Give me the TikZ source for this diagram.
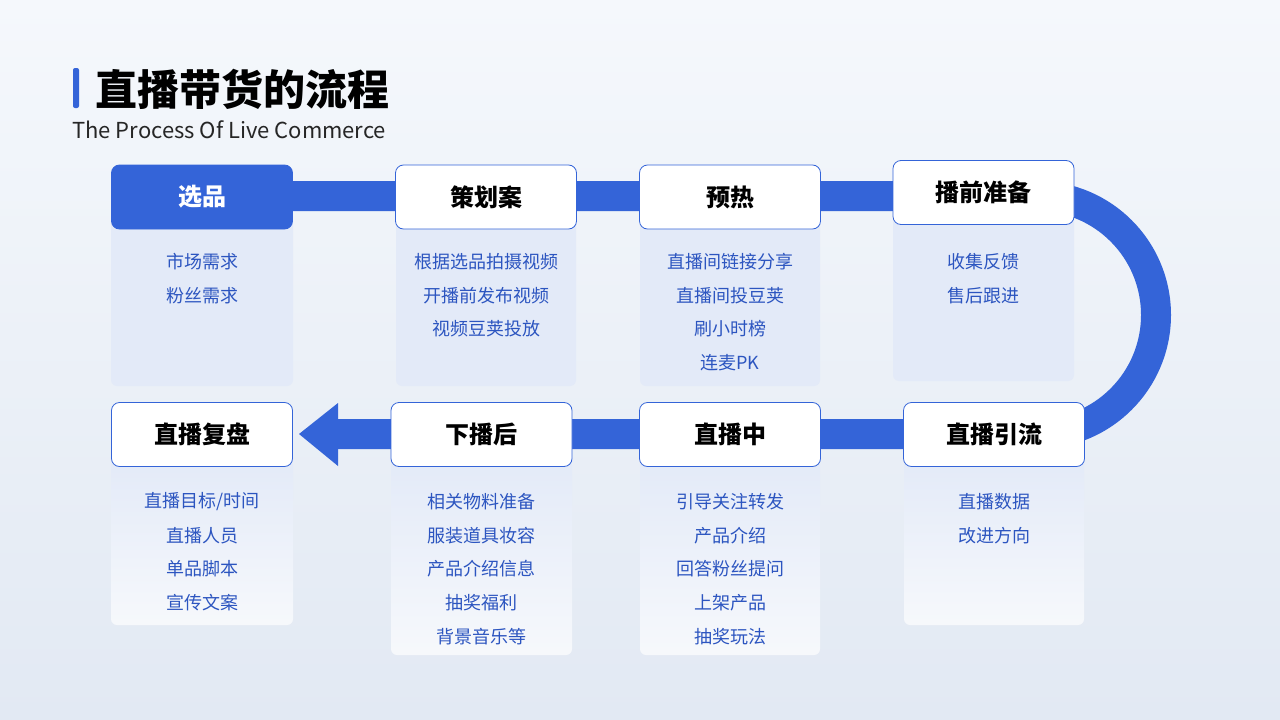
\documentclass[tikz,border=0pt]{standalone}
\usepackage{fontspec}
\setmainfont{Noto Sans CJK SC}
\usetikzlibrary{calc}
\definecolor{mainblue}{HTML}{3464D8}
\definecolor{listblue}{HTML}{2C55C0}
\definecolor{panel}{HTML}{E3EAF8}
\definecolor{bgtop}{HTML}{F5F8FC}
\definecolor{bgbot}{HTML}{E2E9F3}
\begin{document}
\begin{tikzpicture}[x=1pt,y=-1pt,
  head/.style={draw=mainblue,line width=0.8pt,fill=white,rounded corners=8pt,minimum width=181pt,minimum height=64pt,font=\bfseries\fontsize{24}{28}\selectfont,text=black},
  headsel/.style={head,fill=mainblue,text=white},
  item/.style={font=\fontsize{18}{22}\selectfont,text=listblue,anchor=center},
  band/.style={mainblue,line width=30pt}]
\useasboundingbox (0,0) rectangle (1280,720);
\shade[top color=bgtop,bottom color=bgbot] (0,0) rectangle (1280,720);
% title
\fill[mainblue,rounded corners=2pt] (73,68) rectangle (79,108);
\node[anchor=west,font=\bfseries\fontsize{42}{48}\selectfont,inner sep=0pt] (title) at (95,89) {直播带货的流程};
\node[anchor=west,font=\fontsize{22}{26}\selectfont,text=black!85,inner sep=0pt] (sub) at (72,130) {The Process Of Live Commerce};
% panels
\fill[panel,rounded corners=6pt] (111,220) rectangle (293,386);
\fill[panel,rounded corners=6pt] (396,220) rectangle (576,386);
\fill[panel,rounded corners=6pt] (640,220) rectangle (820,386);
\fill[panel,rounded corners=6pt] (893,215) rectangle (1074,381);
\shade[top color=panel,bottom color=bgbot!30!white,rounded corners=6pt] (111,460) rectangle (293,625);
\shade[top color=panel,bottom color=bgbot!30!white,rounded corners=6pt] (391,460) rectangle (572,655);
\shade[top color=panel,bottom color=bgbot!30!white,rounded corners=6pt] (640,460) rectangle (820,655);
\shade[top color=panel,bottom color=bgbot!30!white,rounded corners=6pt] (904,460) rectangle (1084,625);
% bands
\draw[band] (280,196) -- (1037,196) arc[start angle=-90,end angle=90,radius=119] -- (330,434);
\fill[mainblue] (299,434) -- (338,403) -- (338,466) -- cycle;
% heads
\node[headsel] (xp) at (202,197) {选品};
\node[head] (chf) at (486,197) {策划案};
\node[head] (yr) at (730,197) {预热};
\node[head] (bqzb) at (983.5,192.5) {播前准备};
\node[head] (zbfp) at (202,434.5) {直播复盘};
\node[head] (xbh) at (481.5,434.5) {下播后};
\node[head] (zbz) at (730,434.5) {直播中};
\node[head] (zbyl) at (994,434.5) {直播引流};
% items
\node[item] (a1) at (202,262) {市场需求};
\node[item] (a2) at (202,296) {粉丝需求};
\node[item] (b1) at (486,262) {根据选品拍摄视频};
\node[item] (b2) at (486,296) {开播前发布视频};
\node[item] (b3) at (486,329) {视频豆荚投放};
\node[item] (c1) at (730,262) {直播间链接分享};
\node[item] (c2) at (730,296) {直播间投豆荚};
\node[item] (c3) at (730,329) {刷小时榜};
\node[item] (c4) at (730,363) {连麦PK};
\node[item] (d1) at (983.5,262) {收集反馈};
\node[item] (d2) at (983.5,296) {售后跟进};
\node[item] (e1) at (202,502) {直播目标/时间};
\node[item] (e2) at (202,536) {直播人员};
\node[item] (e3) at (202,569) {单品脚本};
\node[item] (e4) at (202,603) {宣传文案};
\node[item] (f1) at (481.5,502) {相关物料准备};
\node[item] (f2) at (481.5,536) {服装道具妆容};
\node[item] (f3) at (481.5,569) {产品介绍信息};
\node[item] (f4) at (481.5,603) {抽奖福利};
\node[item] (f5) at (481.5,637) {背景音乐等};
\node[item] (g1) at (730,502) {引导关注转发};
\node[item] (g2) at (730,536) {产品介绍};
\node[item] (g3) at (730,569) {回答粉丝提问};
\node[item] (g4) at (730,603) {上架产品};
\node[item] (g5) at (730,637) {抽奖玩法};
\node[item] (h1) at (994,502) {直播数据};
\node[item] (h2) at (994,536) {改进方向};
\end{tikzpicture}
\end{document}
